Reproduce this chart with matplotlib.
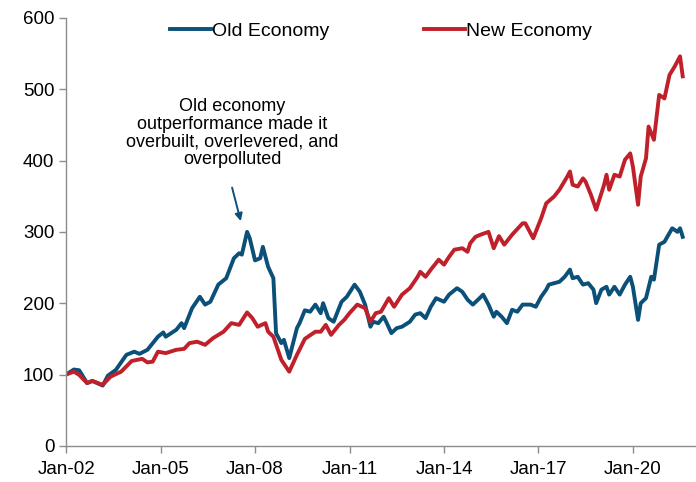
import matplotlib
matplotlib.use("Agg")
import matplotlib.pyplot as plt
import matplotlib.dates as mdates
import pandas as pd

plt.rcParams['font.family'] = ['Liberation Sans', 'DejaVu Sans']

# months since Jan-2002 and index levels
old_months = [0, 3, 5, 8, 10, 14, 16, 19, 23, 26, 28, 31, 35, 37, 38, 42, 44, 45, 48, 51,
              53, 55, 58, 61, 64, 66, 67, 69, 70, 72, 74, 75, 77, 79, 80, 82, 83, 85, 88, 89,
              91, 93, 95, 97, 98, 100, 102, 104, 105, 107, 110, 112, 114, 116, 117, 119, 121, 122, 124, 126,
              128, 131, 133, 135, 137, 139, 141, 144, 146, 149, 151, 153, 155, 157, 159, 161, 163, 164, 166, 168,
              170, 172, 174, 177, 179, 181, 183, 184, 188, 190, 192, 193, 195, 197, 199, 201, 202, 204, 206, 207,
              209, 211, 213, 215, 216, 218, 219, 221, 223, 224, 226, 228, 231, 233, 234, 235]
old_values = [100, 107, 106, 88, 91, 84.5, 98.5, 106.5, 127.6, 132, 129, 134.6, 153, 159, 153, 162.6, 172, 165, 193, 209,
              198, 202, 226, 235, 263, 270, 268, 300, 291, 260, 263, 279, 251, 235, 158, 144, 148.6, 123, 165, 172,
              190, 188, 198, 186, 200, 179, 174, 193, 202, 209, 226, 216, 198, 167, 174, 172, 181, 174, 158, 165,
              167, 174, 184, 186, 179, 195, 207, 202, 212, 221, 216, 205, 198, 205, 212, 198, 181, 188, 181, 172,
              190.7, 188, 198, 198, 195, 209, 219, 226, 230, 237, 247, 235, 237, 226, 228, 219, 200, 219, 223, 212,
              223, 212, 226, 237, 223, 176.6, 200, 207, 237, 233, 282, 286, 305, 300, 305, 293]

new_months = [0, 3, 5, 8, 10, 14, 17, 21, 25, 29, 31, 33, 35, 38, 42, 45, 47, 50, 53, 56,
              60, 63, 66, 69, 71, 73, 76, 77, 79, 82, 85, 88, 89, 91, 95, 97, 99, 101, 104, 106,
              108, 111, 114, 116, 118, 120, 123, 125, 128, 131, 134, 135, 137, 139, 142, 144, 146, 148, 151, 153,
              154, 156, 158, 161, 163, 165, 167, 170, 174, 175, 178, 181, 183, 186, 188, 191, 192, 193, 195, 197,
              198, 200, 202, 205, 206, 207, 209, 211, 213, 215, 216, 218, 219, 221, 222, 224, 226, 228, 230, 232,
              234, 235]
new_values = [100, 104, 99.5, 88, 91, 85.5, 97, 104, 119, 122, 117, 118, 132, 130, 134.6, 136, 144, 146, 141.6, 151,
              160, 172, 169.6, 187, 179, 167, 172, 160, 153, 120.6, 104, 127.6, 135, 150, 160, 160, 169.6, 155.6, 169.6, 176.6,
              186, 198, 193, 174, 186, 188, 207, 195, 212, 221, 237, 244, 237, 247, 261, 254, 265, 275, 277, 272,
              284, 293, 296, 300, 277, 294, 282, 296, 312, 312, 291, 319, 340, 349.5, 359, 377.5, 384.6, 366, 363.5, 375,
              370.5, 352, 331, 366, 380, 359, 380, 377.5, 401, 410, 391.6, 338, 377.5, 403, 447.6, 429, 492, 487, 520, 532,
              546, 518]

all_months = pd.date_range("2002-01-01", periods=240, freq="MS")
old_dates = all_months[old_months]
new_dates = all_months[new_months]

blue = "#0B5079"
red = "#C0202A"

fig = plt.figure(figsize=(6.96, 4.82), dpi=100)
ax = fig.add_axes([0.095, 0.075, 0.904, 0.888])

ax.plot(old_dates, old_values, color=blue, lw=2.8, label="Old Economy", solid_joinstyle="round")
ax.plot(new_dates, new_values, color=red, lw=2.8, label="New Economy", solid_joinstyle="round")

ax.set_ylim(0, 600)
ax.set_yticks(range(0, 601, 100))
ax.set_xlim(pd.Timestamp("2002-01-01"), pd.Timestamp("2021-12-25"))
ax.set_xticks(pd.date_range("2002-01-01", "2020-01-01", freq="36MS"))
ax.xaxis.set_major_formatter(mdates.DateFormatter("%b-%y"))

for side in ["top", "right"]:
    ax.spines[side].set_visible(False)
for side in ["left", "bottom"]:
    ax.spines[side].set_color("#8C8C8C")
    ax.spines[side].set_linewidth(1.0)
ax.tick_params(colors="#8C8C8C", labelcolor="black", labelsize=13.5, length=5, width=1.0)
ax.tick_params(axis="x", pad=6)

ax.legend(loc="upper center", bbox_to_anchor=(0.5, 1.03), ncol=2, frameon=False,
          fontsize=14, handlelength=2.1, handletextpad=0.05, columnspacing=4.9)

ax.text(0.264, 438, "Old economy\noutperformance made it\noverbuilt, overlevered, and\noverpolluted",
        transform=ax.get_yaxis_transform(), ha="center", va="center", fontsize=13, linespacing=1.05)
ax.annotate("", xy=(pd.Timestamp("2007-07-20"), 315), xytext=(pd.Timestamp("2007-04-10"), 362),
            arrowprops=dict(arrowstyle="-|>", color=blue, lw=1.4, mutation_scale=11,
                            shrinkA=0, shrinkB=0))

fig.savefig("out.png", dpi=100)
